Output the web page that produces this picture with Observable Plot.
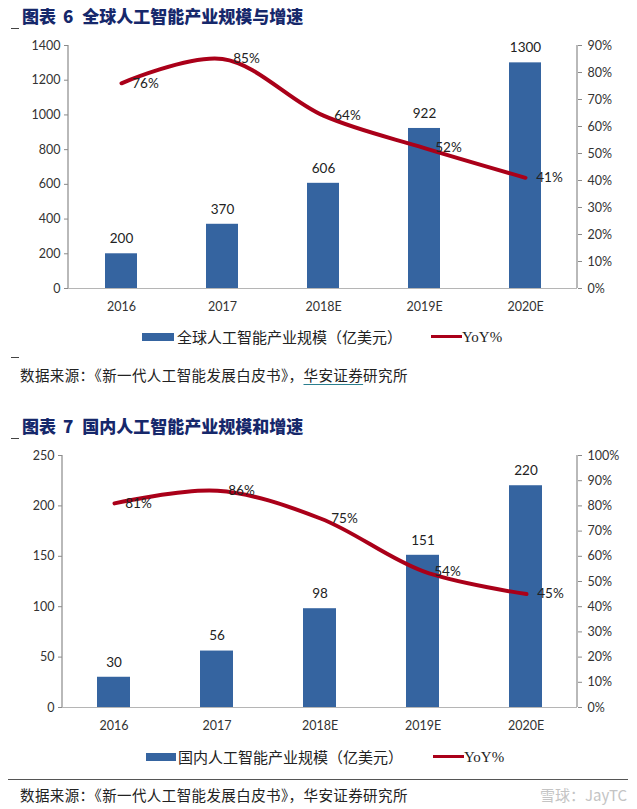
<!DOCTYPE html>
<html><head><meta charset="utf-8">
<script src="https://cdn.jsdelivr.net/npm/d3@7"></script>
<script src="https://cdn.jsdelivr.net/npm/@observablehq/plot@0.6"></script>
<style>
body{margin:0;background:#fff;}
#root{position:relative;width:637px;height:809px;overflow:hidden;background:#fff;}
.title{position:absolute;left:22px;font-family:"Noto Sans CJK SC";font-weight:900;font-size:17px;color:#16286b;white-space:nowrap;line-height:20px;}
.title .n{display:inline-block;margin:0 9px 0 7px;}
.layer{position:absolute;left:0;}
.lg{position:absolute;font-family:"Noto Sans CJK SC";font-size:15px;color:#222;white-space:nowrap;line-height:18px;}
.yoy{font-family:"Liberation Serif";font-size:15px;}
.caption{position:absolute;left:20px;font-family:"Noto Sans CJK SC";font-size:14.5px;color:#222;white-space:nowrap;line-height:18px;letter-spacing:0.4px;}
.dash{position:absolute;height:1px;background:#444;width:8px;left:11px;}
</style>
</head><body><div id="root"></div>
<script>
const years = ["2016", "2017", "2018E", "2019E", "2020E"];
const globalSize = [200, 370, 606, 922, 1300];
const globalYoY = [76, 85, 64, 52, 41];
const chinaSize = [30, 56, 98, 151, 220];
const chinaYoY = [81, 86, 75, 54, 45];
const globalTicks = [0, 200, 400, 600, 800, 1000, 1200, 1400];
const globalPctTicks = [0, 10, 20, 30, 40, 50, 60, 70, 80, 90];
const chinaTicks = [0, 50, 100, 150, 200, 250];
const chinaPctTicks = [0, 10, 20, 30, 40, 50, 60, 70, 80, 90, 100];

const BAR = "#3564a0", LINE = "#aa0019", AXIS = "#8a8a8a";
const root = document.getElementById("root");

function add(html, cls, style) {
  const d = document.createElement("div");
  if (cls) d.className = cls;
  d.innerHTML = html;
  Object.assign(d.style, style);
  root.appendChild(d);
  return d;
}

function chart(cfg) {
  const data = years.map((y, i) => ({year: y, size: cfg.size[i], yoy: cfg.yoy[i]}));
  const common = {
    width: 637, height: cfg.height,
    marginLeft: cfg.mL, marginRight: cfg.mR, marginTop: cfg.mT, marginBottom: cfg.mB,
    style: {fontFamily: "Lato, sans-serif", fontSize: "12.5px", color: "#333", background: "transparent", overflow: "visible"}
  };
  const xScale = {domain: years, paddingInner: cfg.pad, paddingOuter: cfg.pad / 2, label: null};
  const bars = Plot.plot({
    ...common,
    x: {...xScale, tickSize: 0, tickPadding: 14},
    y: {domain: [0, cfg.yTicks[cfg.yTicks.length - 1]], ticks: cfg.yTicks, tickSize: 4, tickPadding: 4, label: null, tickFormat: d => String(d)},
    marks: [
      Plot.ruleY([0], {stroke: "#b5b5b5", strokeWidth: 1.2}),
      Plot.barY(data, {x: "year", y: "size", fill: BAR}),
      Plot.text(data, {x: "year", y: "size", text: d => String(d.size), dy: -15, fontSize: 13.5, fill: "#222"})
    ]
  });
  const lines = Plot.plot({
    ...common,
    x: {...xScale, axis: null},
    y: {domain: [0, cfg.pTicks[cfg.pTicks.length - 1]], ticks: cfg.pTicks, axis: "right", tickSize: 4, tickPadding: 6, label: null, tickFormat: d => d + "%"},
    marks: [
      Plot.line(data, {x: "year", y: "yoy", stroke: LINE, strokeWidth: 4, curve: "catmull-rom"}),
      Plot.text(data, {x: "year", y: "yoy", text: d => d.yoy + "%", dx: 24, fontSize: 13.5, fill: "#222"})
    ]
  });
  const xr = bars.scale("x").range, yr = bars.scale("y").range;
  d3.select(bars).append("line").attr("x1", xr[0]).attr("x2", xr[0]).attr("y1", yr[1]).attr("y2", yr[0])
    .attr("stroke", AXIS).attr("stroke-width", 1.2);
  const xr2 = lines.scale("x").range, yr2 = lines.scale("y").range;
  d3.select(lines).append("line").attr("x1", xr2[1]).attr("x2", xr2[1]).attr("y1", yr2[1]).attr("y2", yr2[0])
    .attr("stroke", AXIS).attr("stroke-width", 1.2);
  d3.select(bars).selectAll("[aria-label='y-axis tick'] path, [aria-label='y-axis tick'] line").attr("stroke", AXIS);
  d3.select(lines).selectAll("[aria-label='y-axis tick'] path, [aria-label='y-axis tick'] line").attr("stroke", AXIS);
  for (const p of [bars, lines]) {
    p.classList.add("layer");
    p.style.top = cfg.top + "px";
    root.appendChild(p);
  }
}

// Chart 6
add("图表<span class=\"n\">6</span>全球人工智能产业规模与增速", "title", {top: "6px"});
add("", "dash", {top: "28px"});
chart({top: 30, height: 290, mL: 68, mR: 60, mT: 15, mB: 32, size: globalSize, yoy: globalYoY,
  yTicks: globalTicks, pTicks: globalPctTicks, pad: 0.686});
add("", "", {position: "absolute", left: "142px", top: "333px", width: "32px", height: "8px", background: BAR});
add("全球人工智能产业规模（亿美元）", "lg", {left: "177px", top: "328px"});
add("", "", {position: "absolute", left: "431px", top: "335px", width: "31px", height: "3px", background: LINE});
add("YoY%", "lg yoy", {left: "462px", top: "328px"});
add("", "dash", {top: "357px"});
add("数据来源：《新一代人工智能发展白皮书》，<span style=\"text-decoration:underline;text-decoration-color:#2b7f8f;text-underline-offset:3px\">华安证券</span>研究所", "caption", {top: "366px"});

// Chart 7
add("图表<span class=\"n\">7</span>国内人工智能产业规模和增速", "title", {top: "416px"});
add("", "dash", {top: "438px"});
chart({top: 440, height: 300, mL: 62, mR: 60, mT: 15, mB: 33, size: chinaSize, yoy: chinaYoY,
  yTicks: chinaTicks, pTicks: chinaPctTicks, pad: 0.68});
add("", "", {position: "absolute", left: "146px", top: "753px", width: "30px", height: "8px", background: BAR});
add("国内人工智能产业规模（亿美元）", "lg", {left: "178px", top: "748px"});
add("", "", {position: "absolute", left: "433px", top: "755px", width: "31px", height: "3px", background: LINE});
add("YoY%", "lg yoy", {left: "464px", top: "748px"});
add("", "", {position: "absolute", left: "8px", top: "779px", width: "620px", height: "1px", background: "#555"});
add("数据来源：《新一代人工智能发展白皮书》，华安证券研究所", "caption", {top: "786px"});
add("雪球：JayTC", "lg", {left: "540px", top: "786px", fontSize: "15px", color: "#c4c4c4"});
</script></body></html>
